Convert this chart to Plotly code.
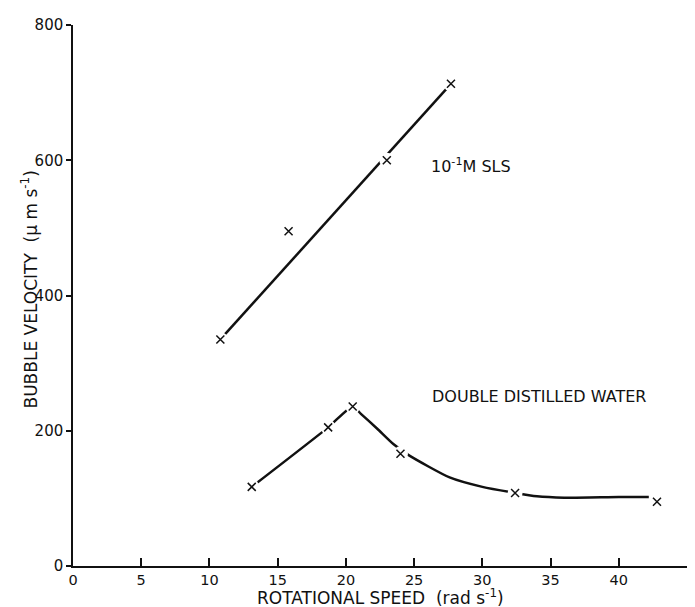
import plotly.graph_objects as go

# Measured points
sls_x = [10.8, 15.8, 23.0, 27.7]
sls_y = [335, 495, 600, 713]
# Fitted straight line drawn through the SLS data (end points)
sls_fit_x = [10.8, 27.7]
sls_fit_y = [335, 713]

water_x = [13.1, 18.7, 20.5, 24.0, 32.4, 42.8]
water_y = [117, 205, 236, 166, 108, 95]
# Hand-drawn curve through the water data
water_curve_x = [13.1, 18.7, 20.5, 21.1, 22.3, 23.5, 24.6, 27.6, 30.0, 32.4, 34.0, 36.0, 40.0, 42.2]
water_curve_y = [117, 205, 236, 225, 203, 180, 164, 131, 117, 108, 103, 101, 102, 102]

x_ticks = [0, 5, 10, 15, 20, 25, 30, 35, 40, 45]
y_ticks = [0, 200, 400, 600, 800]

FONT = "DejaVu Sans"
INK = "#111111"

fig = go.Figure()

# curves
fig.add_trace(go.Scatter(x=sls_fit_x, y=sls_fit_y, mode="lines",
                         line=dict(color=INK, width=2.5), showlegend=False, hoverinfo="skip"))
fig.add_trace(go.Scatter(x=water_curve_x, y=water_curve_y, mode="lines",
                         line=dict(color=INK, width=2.5, shape="spline", smoothing=0.6),
                         showlegend=False, hoverinfo="skip"))
# white halos to break lines around markers
for xs, ys in [(sls_x, sls_y), (water_x, water_y)]:
    fig.add_trace(go.Scatter(x=xs, y=ys, mode="markers",
                             marker=dict(symbol="circle", size=15, color="white",
                                         line=dict(width=0)),
                             showlegend=False, hoverinfo="skip"))
# markers
for xs, ys in [(sls_x, sls_y), (water_x, water_y)]:
    fig.add_trace(go.Scatter(x=xs, y=ys, mode="markers",
                             marker=dict(symbol="x-thin-open", size=8, color=INK,
                                         line=dict(color=INK, width=1.5)),
                             showlegend=False))

fig.add_annotation(x=26.1, y=592, xref="x", yref="y", text="10<sup>-1</sup>M SLS",
                   showarrow=False, xanchor="left", yanchor="middle",
                   font=dict(family=FONT, size=16, color=INK))
fig.add_annotation(x=26.2, y=250, xref="x", yref="y", text="DOUBLE DISTILLED WATER",
                   showarrow=False, xanchor="left", yanchor="middle",
                   font=dict(family=FONT, size=16, color=INK))

# axis titles
fig.add_annotation(x=0.5, y=-0.057, xref="paper", yref="paper",
                   text="ROTATIONAL SPEED  (rad s<sup>-1</sup>)", showarrow=False,
                   xanchor="center", yanchor="middle",
                   font=dict(family=FONT, size=17, color=INK))
fig.add_annotation(x=-0.0717, y=0.511, xref="paper", yref="paper",
                   text="BUBBLE VELOCITY  (\u00b5 m s<sup>-1</sup>)", showarrow=False,
                   textangle=-90, xanchor="center", yanchor="middle",
                   font=dict(family=FONT, size=17, color=INK))

fig.update_xaxes(range=[0, 45], tickvals=x_ticks, ticktext=[str(v) for v in x_ticks],
                 ticks="inside", ticklen=8, tickwidth=1.5, tickcolor=INK,
                 showline=True, linecolor=INK, linewidth=1.5, showgrid=False,
                 zeroline=False, tickfont=dict(family=FONT, size=14.5, color=INK))
fig.update_yaxes(range=[0, 800], tickvals=y_ticks, ticktext=[str(v) for v in y_ticks],
                 ticks="outside", ticklen=5, tickwidth=1.5, tickcolor=INK,
                 showline=True, linecolor=INK, linewidth=1.5, showgrid=False,
                 zeroline=False, tickfont=dict(family=FONT, size=15, color=INK))

# the page body adds an 8px margin, so the figure is sized to fit the 695x607 window
fig.update_layout(width=687, height=599, autosize=False,
                  margin=dict(l=65, r=8, t=12, b=41),
                  plot_bgcolor="white", paper_bgcolor="white")

fig.write_html("out.html")
